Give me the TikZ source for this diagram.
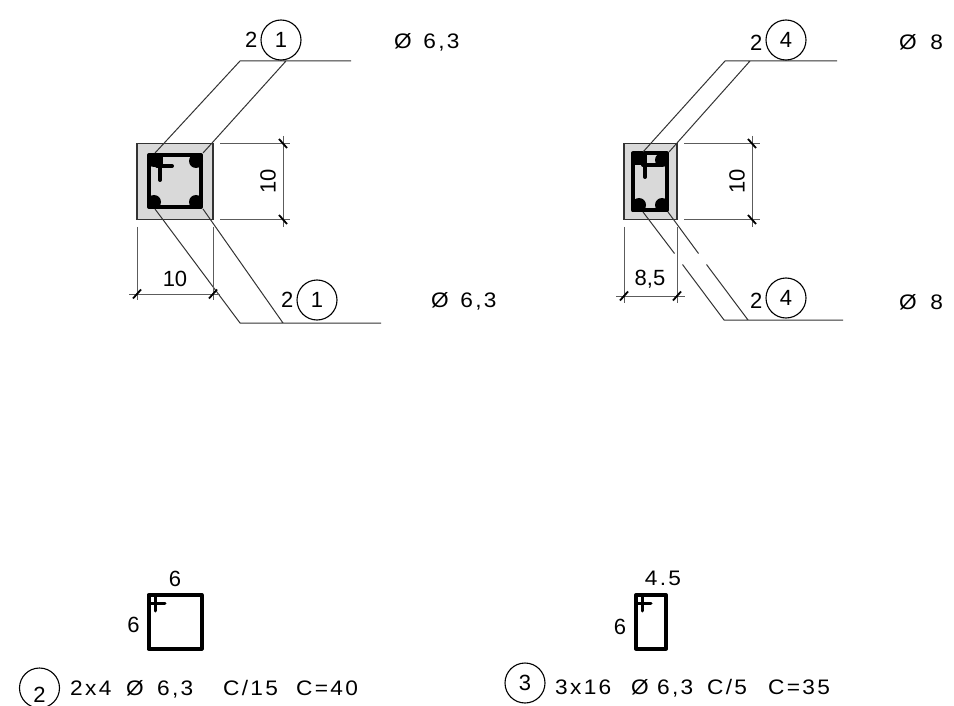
\documentclass[tikz,border=0pt]{standalone}
\usepackage{fontspec}
\setmainfont{Liberation Sans}
\newfontfamily\cadfont[FakeStretch=1.08,LetterSpace=11]{Liberation Sans}
\usetikzlibrary{positioning}
\definecolor{concrete}{HTML}{D9D9D9}
\definecolor{inkline}{HTML}{333333}
\tikzset {
    x=1pt, y=-1pt,
    leader/.style={draw=inkline, line width=1pt},
    dimline/.style={draw=inkline!80, line width=1pt},
    dimtick/.style={draw=black, line width=1.8pt},
    section/.style={draw=inkline, line width=1.6pt, fill=concrete},
    stirrup/.style={draw=black, line width=4pt, line join=round, line cap=round},
    barstyle/.style={fill=black},
    mark circle/.style={circle, draw=black, line width=1.1pt, minimum size=40pt, inner sep=0pt, font=\fontsize{22}{22}\selectfont},
    label/.style={inner sep=0pt, font=\fontsize{22}{22}\selectfont},
    cadlabel/.style={inner sep=0pt, anchor=west, yshift=-2pt, text height=15pt, text depth=4pt, font=\cadfont\fontsize{21}{21}\selectfont}
}

\begin{document}
\begin{tikzpicture}
    \useasboundingbox (0,0) rectangle (954,706);

    \draw[section] (137,143.5) rectangle (213,219.5);
    \draw[stirrup] (149,155) rectangle (201,207);
    \fill[barstyle] (154,160) circle (7) (196,161) circle (7) (154,202) circle (7) (196,202) circle (7);
    \fill[barstyle] (149,155) rectangle (163,166);
    \draw[stirrup] (160,157) -- (160,180) (157,166) -- (172,166);

    \coordinate (a1) at (155,153);
    \coordinate (a2) at (203,153);
    \coordinate (a3) at (155,209);
    \coordinate (a4) at (203,209);
    \coordinate (b1) at (240,61);
    \coordinate (b2) at (286,61);
    \coordinate (b3) at (351,61);
    \coordinate (c1) at (240,323);
    \coordinate (c2) at (283,323);
    \coordinate (c3) at (381,323);
    \draw[leader] (a1) -- (b1) -- (b3) (a2) -- (b2);
    \draw[leader] (a3) -- (c1) -- (c3) (a4) -- (c2);

    \draw[dimline] (220,143.5) -- (290,143.5) (220,219.5) -- (290,219.5) (283,136) -- (283,227);
    \draw[dimline] (137,227) -- (137,300) (213,227) -- (213,300) (129,294) -- (220,294);
    \draw[dimtick] (279,139) -- (287,148) (279,215) -- (287,224);
    \draw[dimtick] (133,298.5) -- (141,289.5) (209,298.5) -- (217,289.5);
    \node[label, rotate=90] (dimv1) at (268,181) {10};
    \node[label] (dimh1) at (175,279) {10};

    \node[mark circle] (m1) at (281,40) {1};
    \node[label, left=3pt of m1] (n1) {2};
    \node[cadlabel] (d1) at (394,41) {Ø\hspace{3pt} 6,3};
    \node[mark circle] (m2) at (317,300) {1};
    \node[label, left=3pt of m2] (n2) {2};
    \node[cadlabel] (d2) at (431,300) {Ø\hspace{3pt} 6,3};

    \draw[section] (624,143.5) rectangle (677,219.5);
    \draw[stirrup] (633,153.5) rectangle (667,210.5);
    \fill[barstyle] (638,158) circle (7) (662,160) circle (7) (639,205) circle (7) (662,205) circle (7);
    \fill[barstyle] (633,153) rectangle (647,165);
    \draw[stirrup] (645,157) -- (645,177) (643,165) -- (660,165);

    \coordinate (e1) at (643,152);
    \coordinate (e2) at (669,152);
    \coordinate (e3) at (643,212);
    \coordinate (e4) at (668,212);
    \coordinate (f1) at (725,61);
    \coordinate (f2) at (750,61);
    \coordinate (f3) at (837,61);
    \coordinate (g1) at (724,320);
    \coordinate (g2) at (748,320);
    \coordinate (g3) at (843,320);
    \coordinate (h1) at (674.5,253.5);
    \coordinate (h2) at (682.5,264.5);
    \coordinate (h3) at (698.5,253.5);
    \coordinate (h4) at (706.5,264.5);
    \draw[leader] (e1) -- (f1) -- (f3) (e2) -- (f2);
    \draw[leader] (e3) -- (h1) (h2) -- (g1) -- (g3) (e4) -- (h3) (h4) -- (g2);

    \draw[dimline] (684,143.5) -- (760,143.5) (684,219.5) -- (760,219.5) (752,136) -- (752,227);
    \draw[dimline] (624,227) -- (624,303) (677,227) -- (677,303) (616,296) -- (685,296);
    \draw[dimtick] (748,139) -- (756,148) (748,215) -- (756,224);
    \draw[dimtick] (620,300.5) -- (628,291.5) (673,300.5) -- (681,291.5);
    \node[label, rotate=90] (dimv2) at (737,181) {10};
    \node[label] (dimh2) at (650,279) {8,5};

    \node[mark circle] (m3) at (786,40) {4};
    \node[label, left=3pt of m3, yshift=-3pt] (n3) {2};
    \node[cadlabel] (d3) at (899,42) {Ø\hspace{5pt} 8};
    \node[mark circle] (m4) at (786,298) {4};
    \node[label, left=3pt of m4, yshift=-3pt] (n4) {2};
    \node[cadlabel] (d4) at (899,302) {Ø\hspace{5pt} 8};

    \draw[stirrup] (148.5,595) rectangle (201.5,648.5);
    \draw[stirrup, line width=3pt] (155.5,596) -- (155.5,611) (149,603.5) -- (165,603.5);
    \node[label] (w1) at (175,579) {6};
    \node[label] (h5) at (133.5,625) {6};
    \node[mark circle] (m5) at (39.5,688) {};
    \node[label] (t5) at (39.5,695) {2};
    \node[cadlabel] (s1) at (70,688) {2x4};
    \node[cadlabel] (s2) at (126,688) {Ø};
    \node[cadlabel] (s3) at (157,688) {6,3};
    \node[cadlabel] (s4) at (223,688) {C/15};
    \node[cadlabel] (s5) at (296,688) {C=40};

    \draw[stirrup] (636,595) rectangle (666,648.5);
    \draw[stirrup, line width=3pt] (642.5,596) -- (642.5,611) (636,603.5) -- (651,603.5);
    \node[cadlabel, anchor=center] (w2) at (663,578) {4.5};
    \node[label] (h6) at (620,627) {6};
    \node[mark circle] (m6) at (525,683) {3};
    \node[cadlabel] (r1) at (555,687) {3x16};
    \node[cadlabel] (r2) at (631,687) {Ø};
    \node[cadlabel] (r3) at (657,687) {6,3};
    \node[cadlabel] (r4) at (707,687) {C/5};
    \node[cadlabel] (r5) at (768,687) {C=35};
\end{tikzpicture}
\end{document}
